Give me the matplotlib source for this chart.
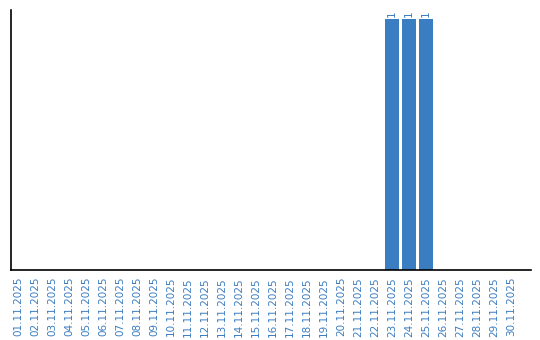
import matplotlib
matplotlib.use("Agg")
import matplotlib.pyplot as plt

dates = [f"{d:02d}.11.2025" for d in range(1, 31)]
values = [0]*22 + [1, 1, 1] + [0]*5

color = "#3b7dc1"
fig = plt.figure(figsize=(5.4, 3.4), dpi=100)
ax = fig.add_axes([11/540, 1-270/340, 520/540, 260/340])
x = list(range(len(dates)))
bars = ax.bar(x, values, width=0.82, color=color)
for xi, v in zip(x, values):
    if v > 0:
        ax.text(xi, v + 0.008, str(v), rotation=90, ha="center", va="bottom",
                fontsize=7.5, color=color)
ax.set_xlim(-0.41, 30.18)
ax.set_ylim(0, 1.036)
ax.set_xticks(x)
ax.set_xticklabels(dates, rotation=90, fontsize=7.5, color=color)
ax.tick_params(axis="x", length=0, pad=5)
ax.set_yticks([])
for s in ["top", "right"]:
    ax.spines[s].set_visible(False)
ax.spines["left"].set_linewidth(1.2)
ax.spines["bottom"].set_linewidth(1.2)
fig.savefig("out.png", dpi=100)
